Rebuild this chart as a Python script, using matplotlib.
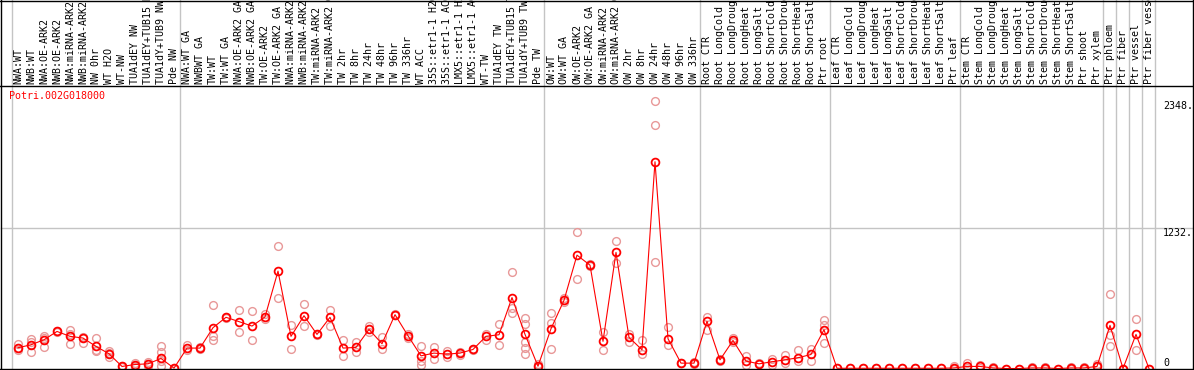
import matplotlib
matplotlib.use("Agg")
import matplotlib.pyplot as plt
from matplotlib.lines import Line2D
import matplotlib.transforms as mtransforms

# ---------------- data ----------------
gene_id = "Potri.002G018000"

sample_labels = [
    "NWA:WT", "NWB:WT", "NWA:OE-ARK2", "NWB:OE-ARK2", "NWA:miRNA-ARK2", "NWB:miRNA-ARK2",
    "NW 0hr", "WT H2O", "WT-NW", "TUA1dEY NW", "TUA1dEY+TUB15 NW", "TUA1dY+TUB9 NW", "Pde NW",
    "NWA:WT GA", "NWBWT GA", "TW:WT", "TW:WT GA", "NWA:OE-ARK2 GA", "NWB:OE-ARK2 GA",
    "TW:OE-ARK2", "TW:OE-ARK2 GA", "NWA:miRNA-ARK2 GA", "NWB:miRNA-ARK2 GA", "TW:miRNA-ARK2",
    "TW:miRNA-ARK2 GA", "TW 2hr", "TW 8hr", "TW 24hr", "TW 48hr", "TW 96hr", "TW 336hr",
    "WT ACC", "35S::etr1-1 H2O", "35S::etr1-1 ACC", "LMX5::etr1-1 H2O", "LMX5::etr1-1 ACC",
    "WT-TW", "TUA1dEY TW", "TUA1dEY+TUB15 TW", "TUA1dY+TUB9 TW", "Pde TW",
    "OW:WT", "OW:WT GA", "OW:OE-ARK2", "OW:OE-ARK2 GA", "OW:miRNA-ARK2", "OW:miRNA-ARK2 GA",
    "OW 2hr", "OW 8hr", "OW 24hr", "OW 48hr", "OW 96hr", "OW 336hr",
    "Root CTR", "Root LongCold", "Root LongDrought", "Root LongHeat", "Root LongSalt",
    "Root ShortCold", "Root ShortDrought", "Root ShortHeat", "Root ShortSalt", "Ptr root",
    "Leaf CTR", "Leaf LongCold", "Leaf LongDrought", "Leaf LongHeat", "Leaf LongSalt",
    "Leaf ShortCold", "Leaf ShortDrought", "Leaf ShortHeat", "Leaf ShortSalt", "Ptr leaf",
    "Stem CTR", "Stem LongCold", "Stem LongDrought", "Stem LongHeat", "Stem LongSalt",
    "Stem ShortCold", "Stem ShortDrought", "Stem ShortHeat", "Stem ShortSalt", "Ptr shoot",
    "Ptr xylem", "Ptr phloem", "Ptr fiber", "Ptr vessel", "Ptr fiber vessel",
]

mean_values = [
    182, 208, 252, 325, 282, 267, 194, 129, 18, 35, 41, 88, 3,
    179, 179, 358, 449, 411, 372, 452, 854, 282, 463, 299, 449, 179, 185, 343,
    217, 472, 287, 111, 135, 126, 135, 167, 282, 296, 622, 299, 20,
    349, 598, 994, 906, 238, 1018, 273, 164, 1813, 261, 47, 47,
    414, 76, 246, 65, 41, 59, 76, 94, 123, 340,
    2, 2, 2, 2, 2, 2, 2, 2, 2, 5,
    18, 18, 5, 0, 0, 5, 5, 0, 5, 5, 18,
    378, 0, 299, 0,
]

replicates = [
    [211, 158, 182], [255, 143, 230], [282, 188, 270], [330, 320], [334, 217, 300],
    [275, 223], [270, 152, 160], [152, 100, 135], [10, 25], [20, 10, 50],
    [60, 25, 40], [199, 144, 70, 21], [5, 0],
    [202, 160], [185, 172], [554, 282, 246], [455, 445], [510, 317], [502, 246],
    [481, 430], [1074, 622], [378, 173], [563, 375], [295, 305], [510, 375],
    [246, 109], [232, 144], [372, 320], [276, 170], [480, 465], [300, 270],
    [199, 70, 35], [188, 85], [150, 100], [145, 120], [175, 160], [246, 300],
    [387, 208], [845, 534, 487], [443, 393, 232, 180, 129], [40, 10],
    [487, 402, 173], [620, 585], [1194, 789], [915, 900], [320, 158], [1115, 921],
    [300, 232], [246, 129], [2348, 2138, 935], [364, 202], [50, 45], [55, 40],
    [452, 340], [85, 65], [270, 230], [106, 35], [45, 38], [85, 30], [114, 50],
    [158, 70], [173, 70], [422, 226, 380],
    [2], [2], [2], [2], [2], [2], [2], [2], [2], [20, 0],
    [47, 5], [35, 5], [10, 0], [0], [0], [15, 0], [15, 0], [0], [10, 0], [15, 0], [41, 10],
    [657, 290, 194], [0], [437, 158], [0],
]

group_starts = [0, 13, 41, 53, 63, 73, 84, 85, 86, 87, 88]
ytick_values = [2348, 1232, 0]
ytick_labels = ["2348.", "1232.", "0"]

# ---------------- layout ----------------
W, H = 1194, 370
fig = plt.figure(figsize=(W / 100, H / 100), dpi=100)

ax_left, ax_right = 1.0, 1155.0
ax_top, ax_bot = 86.0, 368.5
ax = fig.add_axes([ax_left / W, (H - ax_bot) / H, (ax_right - ax_left) / W, (ax_bot - ax_top) / H])
for s in ax.spines.values():
    s.set_visible(False)
ax.set_xticks([])
ax.set_yticks([])

n = len(mean_values)
ax.set_xlim((ax_left - 18.0) / 13.0, (ax_right - 18.0) / 13.0)
ymax = (ax_bot - ax_top) / (ax_bot - 228.0) * 1232
ax.set_ylim(0, ymax)

grid_col = "#c4c4c4"
mono = "DejaVu Sans Mono"
fs = 7.2

# group separator lines (through header)
header_frac = ax_bot / (ax_bot - ax_top)
for g in group_starts:
    ax.axvline(g - 0.5, ymin=0, ymax=header_frac, color=grid_col, lw=1.0, clip_on=False, zorder=1)

# horizontal grid line at 1232
right_frac = (W - 1 - ax_left) / (ax_right - ax_left)
ax.plot([0, right_frac], [1232, 1232], color=grid_col, lw=1.0, clip_on=False, zorder=1,
        transform=mtransforms.blended_transform_factory(ax.transAxes, ax.transData))

# replicates
xs, ys = [], []
for i, reps in enumerate(replicates):
    for v in reps:
        xs.append(i)
        ys.append(v)
ax.plot(xs, ys, linestyle="none", marker="o", markersize=5.6, markerfacecolor="none",
        markeredgecolor="#e89898", markeredgewidth=1.0, clip_on=False, zorder=2)

# mean line
ax.plot(range(n), mean_values, color="#ff0000", lw=0.8, marker="o", markersize=5.6,
        markerfacecolor="none", markeredgecolor="#ff0000", markeredgewidth=1.3,
        clip_on=False, zorder=3)

# header labels
lab_tr = mtransforms.blended_transform_factory(ax.transData, ax.transAxes)
for i, lab in enumerate(sample_labels):
    ax.text(i, 1.0 + 2.0 / (ax_bot - ax_top), lab, rotation=90, ha="center", va="bottom",
            family=mono, fontsize=fs, color="black", transform=lab_tr, clip_on=False)

# gene id
ax.text(8.0 / (ax_right - ax_left), 1.0 - 5.0 / (ax_bot - ax_top), gene_id, color="#ff0000",
        family=mono, fontsize=fs, ha="left", va="top", transform=ax.transAxes)

# right axis labels
yl_tr = mtransforms.blended_transform_factory(ax.transAxes, ax.transData)
xlab = (1163 - ax_left) / (ax_right - ax_left)
for v, t in zip(ytick_values, ytick_labels):
    va = "bottom" if v == 0 else "top"
    ax.text(xlab, v, t, family=mono, fontsize=fs, ha="left", va=va,
            transform=yl_tr, clip_on=False)

# frame lines (figure coords)
def fline(x0, y0, x1, y1, color="black", lw=1.0):
    fig.add_artist(Line2D([x0 / W, x1 / W], [1 - y0 / H, 1 - y1 / H], color=color, lw=lw,
                          transform=fig.transFigure))

fline(0, 0.5, W, 0.5)
fline(0, ax_top, W, ax_top)
fline(0, ax_bot, W, ax_bot)
fline(1.0, 0, 1.0, H)
fline(W - 1.0, 0, W - 1.0, H)

fig.savefig("out.png", dpi=100)
